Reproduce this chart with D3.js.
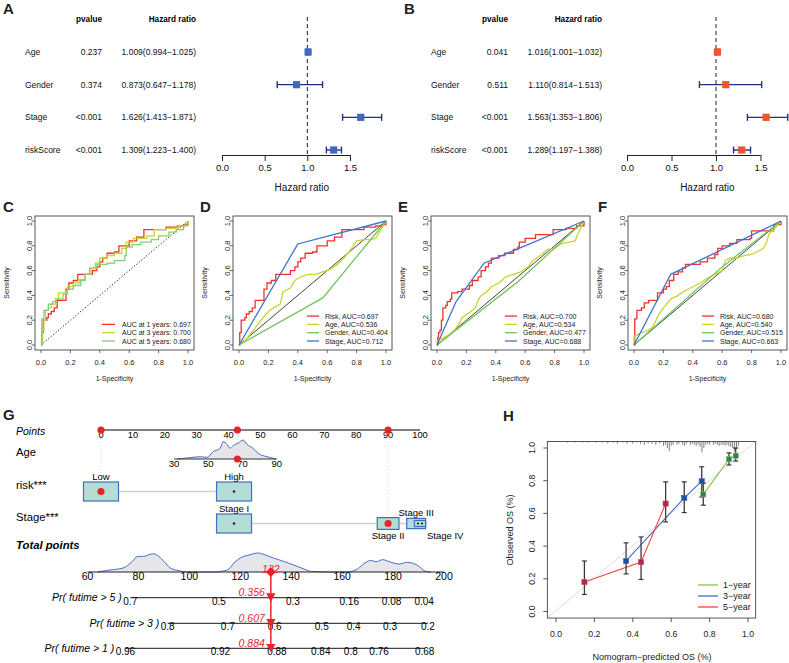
<!DOCTYPE html>
<html><head><meta charset="utf-8">
<script src="https://cdn.jsdelivr.net/npm/d3@7"></script>
<style>body{margin:0;background:#fff}svg{display:block}text{font-family:"Liberation Sans",Arial,Helvetica,sans-serif}</style>
</head><body><svg id="c" width="789" height="663"></svg>
<script>
// ---------------- DATA ----------------
const forestVars = ["Age","Gender","Stage","riskScore"];
const uniP = ["0.237","0.374","<0.001","<0.001"];
const uniHR = [1.009,0.873,1.626,1.309];
const uniLow = [0.994,0.647,1.413,1.223];
const uniHigh = [1.025,1.178,1.871,1.400];
const multiP = ["0.041","0.511","<0.001","<0.001"];
const multiHR = [1.016,1.110,1.563,1.289];
const multiLow = [1.001,0.814,1.353,1.197];
const multiHigh = [1.032,1.513,1.806,1.388];
const hrTicks = [0,0.5,1.0,1.5];

const rocTicks = [0,0.2,0.4,0.6,0.8,1.0];
const rocC_1yr = [[0,0],[0.005,0.1],[0.015,0.2],[0.04,0.22],[0.05,0.25],[0.07,0.27],[0.09,0.3],[0.11,0.36],[0.16,0.36],[0.17,0.45],[0.19,0.5],[0.22,0.52],[0.25,0.57],[0.33,0.57],[0.35,0.6],[0.38,0.63],[0.4,0.67],[0.42,0.7],[0.45,0.74],[0.5,0.75],[0.53,0.8],[0.57,0.8],[0.6,0.84],[0.65,0.87],[0.7,0.93],[0.83,0.93],[0.85,0.95],[0.93,0.96],[0.97,0.97],[1,1]];
const rocC_3yr = [[0,0],[0.005,0.05],[0.01,0.12],[0.02,0.2],[0.03,0.28],[0.05,0.3],[0.07,0.33],[0.1,0.37],[0.12,0.42],[0.17,0.43],[0.18,0.47],[0.22,0.5],[0.26,0.53],[0.3,0.57],[0.34,0.62],[0.37,0.66],[0.4,0.7],[0.45,0.72],[0.5,0.74],[0.55,0.78],[0.58,0.83],[0.63,0.86],[0.72,0.88],[0.77,0.93],[0.85,0.94],[0.92,0.96],[0.98,0.98],[1,1]];
const rocC_5yr = [[0,0],[0.005,0.21],[0.02,0.28],[0.05,0.33],[0.08,0.35],[0.1,0.37],[0.15,0.41],[0.18,0.45],[0.22,0.48],[0.27,0.52],[0.3,0.57],[0.33,0.62],[0.38,0.65],[0.45,0.66],[0.5,0.68],[0.57,0.72],[0.58,0.79],[0.62,0.81],[0.68,0.83],[0.75,0.85],[0.8,0.88],[0.87,0.91],[0.92,0.93],[0.97,0.96],[1,1]];
const aucC = [0.697,0.700,0.680];
const yearsC = [1,3,5];

const rocD_risk = rocC_1yr;
const rocD_age = [[0,0],[0.05,0.05],[0.1,0.12],[0.15,0.2],[0.2,0.27],[0.25,0.31],[0.28,0.33],[0.3,0.43],[0.35,0.46],[0.38,0.52],[0.42,0.55],[0.47,0.57],[0.52,0.57],[0.57,0.59],[0.62,0.61],[0.67,0.65],[0.72,0.71],[0.76,0.77],[0.8,0.84],[0.85,0.85],[0.9,0.85],[0.93,0.86],[0.96,0.92],[1,1]];
const rocD_gender = [[0,0],[0.57,0.38],[1,1]];
const rocD_stage = [[0,0],[0.4,0.815],[1,1]];
const aucD = [0.697,0.536,0.404,0.712];

const rocE_risk = [[0,0],[0.005,0.06],[0.01,0.1],[0.02,0.12],[0.03,0.2],[0.04,0.3],[0.06,0.32],[0.07,0.35],[0.09,0.37],[0.1,0.42],[0.14,0.43],[0.17,0.45],[0.22,0.48],[0.24,0.52],[0.28,0.55],[0.3,0.6],[0.33,0.63],[0.35,0.66],[0.37,0.7],[0.42,0.72],[0.46,0.74],[0.52,0.77],[0.55,0.79],[0.56,0.83],[0.6,0.86],[0.67,0.89],[0.77,0.89],[0.79,0.93],[0.88,0.94],[0.95,0.96],[1,1]];
const rocE_age = [[0,0],[0,0.03],[0.03,0.05],[0.08,0.08],[0.12,0.12],[0.15,0.17],[0.17,0.22],[0.22,0.26],[0.26,0.3],[0.28,0.36],[0.3,0.4],[0.33,0.42],[0.37,0.47],[0.42,0.5],[0.47,0.55],[0.52,0.57],[0.57,0.59],[0.62,0.63],[0.65,0.68],[0.7,0.72],[0.75,0.77],[0.8,0.78],[0.85,0.82],[0.9,0.83],[0.94,0.84],[0.96,0.9],[1,1]];
const rocE_gender = [[0,0],[0.56,0.52],[1,1]];
const rocE_stage = [[0,0],[0.13,0.35],[0.32,0.66],[1,1]];
const aucE = [0.700,0.534,0.477,0.688];

const rocF_risk = [[0,0],[0.005,0.21],[0.02,0.28],[0.05,0.3],[0.07,0.34],[0.1,0.36],[0.15,0.36],[0.16,0.42],[0.2,0.45],[0.22,0.47],[0.24,0.52],[0.27,0.57],[0.3,0.59],[0.33,0.62],[0.35,0.65],[0.45,0.67],[0.5,0.7],[0.55,0.73],[0.57,0.78],[0.6,0.8],[0.65,0.82],[0.7,0.85],[0.79,0.86],[0.8,0.92],[0.9,0.92],[0.95,0.97],[1,1]];
const rocF_age = [[0,0],[0,0.07],[0.05,0.1],[0.1,0.12],[0.13,0.15],[0.17,0.25],[0.2,0.3],[0.25,0.37],[0.3,0.4],[0.35,0.44],[0.4,0.47],[0.45,0.5],[0.5,0.54],[0.55,0.57],[0.6,0.6],[0.62,0.68],[0.65,0.7],[0.7,0.7],[0.75,0.72],[0.8,0.73],[0.85,0.76],[0.88,0.78],[0.9,0.82],[0.92,0.9],[0.95,0.93],[1,1]];
const rocF_gender = [[0,0],[0.6,0.63],[1,1]];
const rocF_stage = [[0,0],[0.25,0.57],[1,1]];
const aucF = [0.680,0.540,0.515,0.663];
const rocVarNames = ["Risk","Age","Gender","Stage"];

// nomogram
const pointsTicks = [0,10,20,30,40,50,60,70,80,90,100];
const ageTicks = [30,50,70,90];
const ageRange = [30,90];
const agePointsRange = [22.9,55.1];
const ageDensAge = [31.8,39.3,45.2,49.3,52.8,56.9,58.6,61,62.7,64.5,67.4,70.3,72.6,76.1,79.1,84.3,87.8,89.6];
const ageDens = [0,0.07,0.12,0.09,0.38,0.56,0.91,0.77,0.56,0.7,0.83,1,0.77,0.56,0.3,0.12,0.04,0];
const riskCats = ["Low","High"];
const riskPoints = [0,41.7];
const riskFreq = [0.5,0.5];
const stageCats = ["Stage I","Stage II","Stage III","Stage IV"];
const stagePoints = [41.7,90,98.8,100];
const stageFreq = [0.5,0.31,0.27,0.16];
const totalTicks = [60,80,100,120,140,160,180,200];
const totDensX = [63.9,69,74,77.6,79.6,82,84,86,88,90,92.6,95.9,99,104,109.6,115,117.5,120,123.4,126.8,130,133,137,141,145,148,155,162,166,169.3,171.3,173.3,175.9,179.2,182.4,185.7,189.6,192.9,194.9];
const totDens = [0,0.11,0.21,0.56,0.82,0.82,0.91,0.96,0.82,0.56,0.21,0.07,0,0,0,0.11,0.47,0.74,0.89,1.0,0.89,0.74,0.56,0.37,0.16,0.03,0,0,0.16,0.51,0.61,0.54,0.65,0.51,0.42,0.51,0.35,0.03,0];
const probNames = ["Pr( futime > 5 )","Pr( futime > 3 )","Pr( futime > 1 )"];
const probLabels5 = ["0.7","0.5","0.3","0.16","0.08","0.04"];
const probPos5 = [76.8,111.6,140.7,162.8,179.4,192.2];
const probLabels3 = ["0.8","0.7","0.6","0.5","0.4","0.3","0.2"];
const probPos3 = [91.5,115.1,133.5,152,164.5,178.8,193.7];
const probLabels1 = ["0.96","0.92","0.88","0.84","0.8","0.76","0.68"];
const probPos1 = [74.9,112.2,134.4,151.6,163.4,174.5,192.4];
const patientAge = 67, patientRisk = "Low", patientStage = "Stage II";
const patientTotal = 132;
const patientProb = ["0.356","0.607","0.884"];

// calibration
const calTicks = [0,0.2,0.4,0.6,0.8,1.0];
const calNames = ["1\u2212year","3\u2212year","5\u2212year"];
const cal1Pred = [0.767,0.901,0.936], cal1Obs = [0.716,0.932,0.953], cal1Lo = [0.65,0.896,0.92], cal1Hi = [0.785,0.97,1.0];
const cal3Pred = [0.365,0.668,0.759], cal3Obs = [0.309,0.695,0.797], cal3Lo = [0.23,0.605,0.70], cal3Hi = [0.42,0.793,0.885];
const cal5Pred = [0.148,0.443,0.571], cal5Obs = [0.18,0.302,0.66], cal5Lo = [0.104,0.196,0.548], cal5Hi = [0.309,0.456,0.793];
const rugPred = [0.06,0.10,0.14,0.17,0.21,0.24,0.27,0.30,0.32,0.35,0.37,0.40,0.42,0.44,0.46,0.48,0.50,0.52,0.54,0.56,0.57,0.58,0.59,0.60,0.61,0.63,0.64,0.66,0.67,0.68,0.70,0.71,0.72,0.73,0.74,0.75,0.76,0.77,0.78,0.79,0.80,0.82,0.83,0.84,0.85,0.86,0.87,0.88,0.89,0.90,0.91,0.92,0.93,0.94,0.95];
const rugCount = [1,1,1,1,1,1,2,1,2,1,2,2,1,2,3,2,2,3,2,4,3,6,9,4,3,3,2,3,4,2,3,2,3,4,3,5,10,6,3,2,3,3,2,3,4,3,3,4,3,4,5,6,9,7,4];

// ---------------- DRAW ----------------
const svg = d3.select("#c");
svg.append("rect").attr("width",789).attr("height",663).attr("fill","#fff");
const FONT = '"Liberation Sans", Arial, Helvetica, sans-serif';
function txt(g,x,y,s,o={}){
  const t=g.append("text").attr("x",x).attr("y",y).text(s)
    .attr("font-size",o.size||8.5).attr("text-anchor",o.anchor||"start")
    .attr("dominant-baseline","central").attr("fill",o.fill||"#000");
  if(o.weight)t.attr("font-weight",o.weight);
  if(o.style)t.attr("font-style",o.style);
  if(o.rotate)t.attr("transform",`rotate(${o.rotate},${x},${y})`);
  return t;
}
function ln(g,x1,y1,x2,y2,c,w,dash){
  const l=g.append("line").attr("x1",x1).attr("y1",y1).attr("x2",x2).attr("y2",y2).attr("stroke",c||"#000").attr("stroke-width",w||1);
  if(dash)l.attr("stroke-dasharray",dash);
  return l;
}
// panel letters
[["A",3,8],["B",404,8],["C",3,206],["D",200,206],["E",398,206],["F",598,206],["G",3,414],["H",503,415]]
 .forEach(d=>txt(svg,d[1],d[2],d[0],{size:15,weight:"bold",fill:"#222"}));

// ---- forest plots ----
function forest(c){
  const g=svg.append("g");
  const x=d3.scaleLinear().domain([0,1.5]).range(c.range);
  const y=d3.scalePoint().domain(forestVars).range([52,150]);
  txt(g,c.pRight,19,"pvalue",{anchor:"end",weight:"bold",size:8.2});
  txt(g,c.hrRight,19,"Hazard ratio",{anchor:"end",weight:"bold",size:8.2});
  forestVars.forEach((v,i)=>{
    txt(g,c.nameX,y(v),v,{size:8.5,fill:"#111"});
    txt(g,c.pRight,y(v),c.p[i],{anchor:"end",size:8.5,fill:"#111"});
    txt(g,c.hrRight,y(v),`${c.hr[i].toFixed(3)}(${c.lo[i].toFixed(3)}\u2212${c.hi[i].toFixed(3)})`,{anchor:"end",size:8.5,fill:"#111"});
  });
  ln(g,x(1),17,x(1),155,"#222",1,"4,3");
  forestVars.forEach((v,i)=>{
    const yy=y(v);
    ln(g,x(c.lo[i]),yy,x(c.hi[i]),yy,"#22307F",1.4);
    ln(g,x(c.lo[i]),yy-3.5,x(c.lo[i]),yy+3.5,"#22307F",1.4);
    ln(g,x(c.hi[i]),yy-3.5,x(c.hi[i]),yy+3.5,"#22307F",1.4);
    g.append("rect").attr("x",x(c.hr[i])-3.6).attr("y",yy-3.6).attr("width",7.2).attr("height",7.2).attr("fill",c.color);
  });
  const ax=d3.axisBottom(x).tickValues(hrTicks).tickFormat(d3.format(".1f")).tickSize(6).tickSizeOuter(0);
  const ag=g.append("g").attr("transform","translate(0,155)").call(ax).attr("font-family",FONT).attr("font-size",9.5);
  ag.selectAll("line,path").attr("stroke","#222");
  ag.selectAll("text").attr("fill","#111");
  const maxHi=d3.max(c.hi);
  txt(g,(x(0)+x(maxHi))/2,187,"Hazard ratio",{anchor:"middle",size:10,fill:"#111"});
}
forest({range:[222,350],nameX:25,pRight:102,hrRight:196,p:uniP,hr:uniHR,lo:uniLow,hi:uniHigh,color:"#4169BA"});
forest({range:[627,760.5],nameX:431,pRight:508,hrRight:602,p:multiP,hr:multiHR,lo:multiLow,hi:multiHigh,color:"#EE552B"});

// ---- ROC panels ----
const cRed="#F3312C", cYel="#C6D62C", cGrn="#73C45C", cGrnL="#86CE77", cBlu="#3C74CB";
function rocPanel(p){
  const g=svg.append("g");
  const L=p.left, R=L+159, T=216, B=350;
  const x=d3.scaleLinear().domain([0,1]).range([L+6,L+153]);
  const y=d3.scaleLinear().domain([0,1]).range([345,221]);
  g.append("rect").attr("x",L).attr("y",T).attr("width",R-L).attr("height",B-T).attr("fill","none").attr("stroke","#444").attr("stroke-width",0.9);
  rocTicks.forEach(t=>{
    ln(g,x(t),B,x(t),B+3,"#444",0.8);
    txt(g,x(t),362,d3.format(".1f")(t),{anchor:"middle",size:7.5,fill:"#222"});
    ln(g,L,y(t),L-3,y(t),"#444",0.8);
    txt(g,L-5.5,y(t),d3.format(".1f")(t),{anchor:"middle",size:7.5,fill:"#222",rotate:-90});
  });
  txt(g,(L+R)/2,378,"1-Specificity",{anchor:"middle",size:7,fill:"#222"});
  txt(g,L-28.5,(T+B)/2,"Sensitivity",{anchor:"middle",size:7,fill:"#222",rotate:-90});
  ln(g,x(0),y(0),x(1),y(1),"#111",p.dotted?1:0.8,p.dotted?"1.2,2":null);
  p.series.forEach(s=>{
    const line=d3.line().x(d=>x(d[0])).y(d=>y(d[1])).curve(s.step?d3.curveStepAfter:d3.curveLinear);
    g.append("path").attr("d",line(s.data)).attr("fill","none").attr("stroke",s.color).attr("stroke-width",1.3);
  });
  const n=p.series.length;
  p.series.forEach((s,i)=>{
    const yy=341-(n-1-i)*8.3;
    ln(g,L+p.lx[0],yy,L+p.lx[1],yy,s.color,1.3);
    txt(g,L+p.lx[2],yy,s.label,{size:7,fill:"#222"});
  });
}
rocPanel({left:35,dotted:true,lx:[67,80,87],series:[
  {data:rocC_1yr,color:cRed,step:true,label:`AUC at ${yearsC[0]} years: ${aucC[0].toFixed(3)}`},
  {data:rocC_3yr,color:cYel,step:true,label:`AUC at ${yearsC[1]} years: ${aucC[1].toFixed(3)}`},
  {data:rocC_5yr,color:cGrnL,step:true,label:`AUC at ${yearsC[2]} years: ${aucC[2].toFixed(3)}`}]});
function fourSeries(risk,age,gender,stage,auc){
  const d=[risk,age,gender,stage], col=[cRed,cYel,cGrn,cBlu];
  return d.map((a,i)=>({data:a,color:col[i],step:i===0,label:`${rocVarNames[i]}, AUC=${auc[i].toFixed(3)}`}));
}
rocPanel({left:233,lx:[74,86,92],series:fourSeries(rocD_risk,rocD_age,rocD_gender,rocD_stage,aucD)});
rocPanel({left:431,lx:[74,86,92],series:fourSeries(rocE_risk,rocE_age,rocE_gender,rocE_stage,aucE)});
rocPanel({left:628,lx:[74,86,92],series:fourSeries(rocF_risk,rocF_age,rocF_gender,rocF_stage,aucF)});

// ---- Nomogram G ----
(function(){
  const g=svg.append("g");
  const ptsX=d3.scaleLinear().domain([0,100]).range([101,420]);
  const totX=d3.scaleLinear().domain([60,200]).range([87.5,444]);
  const ageToPts=d3.scaleLinear().domain(ageRange).range(agePointsRange);
  const ageX=a=>ptsX(ageToPts(a));
  const yPts=430,yAge=459,yRisk=491.5,yStage=523.5,yTot=572,yProb=[597.7,623.3,648.3];
  const red="#E8232A", boxFill="#B4DDD6", boxStroke="#3E6FC2";
  txt(g,16,430.5,"Points",{size:10.5,style:"italic"});
  txt(g,16,452,"Age",{size:11.3});
  txt(g,16,485,"risk***",{size:11.3});
  txt(g,16,517,"Stage***",{size:11.3});
  txt(g,16,545,"Total points",{size:11.3,weight:"bold",style:"italic"});
  // dotted guides
  const agePts=ageToPts(patientAge);
  const riskP=riskPoints[riskCats.indexOf(patientRisk)], stageP=stagePoints[stageCats.indexOf(patientStage)];
  ln(g,ptsX(riskP),yPts,ptsX(riskP),yRisk,"#E2DDBE",1,"1,2");
  ln(g,ptsX(agePts),yPts,ptsX(agePts),yAge,"#E2DDBE",1,"1,2");
  ln(g,ptsX(stageP),yPts,ptsX(stageP),yStage,"#E2DDBE",1,"1,2");
  // points axis
  ln(g,ptsX(0),yPts,ptsX(100),yPts,"#555",1.6);
  pointsTicks.forEach(t=>txt(g,ptsX(t),yPts+4.8,t,{anchor:"middle",size:9.3}));
  // age
  const dens=d3.scaleLinear().domain([0,1]).range([0,19]);
  const area=d3.area().x((d,i)=>ageX(ageDensAge[i])).y0(yAge).y1(d=>yAge-dens(d)).curve(d3.curveMonotoneX);
  g.append("path").attr("d",area(ageDens)).attr("fill","#E6E6EA");
  g.append("path").attr("d",area.lineY1()(ageDens)).attr("fill","none").attr("stroke","#3A5EC2").attr("stroke-width",0.9);
  ln(g,ageX(ageRange[0]),yAge,ageX(ageRange[1]),yAge,"#333",1.2);
  ageTicks.forEach(t=>txt(g,ageX(t),yAge+4.5,t,{anchor:"middle",size:9.5}));
  // categorical rows
  function catRow(cats,pts,freq,yy,labelPos){
    for(let i=0;i<cats.length-1;i++){
      const w1=70*freq[i],w2=70*freq[i+1];
      ln(g,ptsX(pts[i])+w1/2,yy,ptsX(pts[i+1])-w2/2,yy,"#D3D3D3",1.6);
    }
    cats.forEach((c,i)=>{
      const w=70*freq[i],h=38*freq[i],cx=ptsX(pts[i]);
      g.append("rect").attr("x",cx-w/2).attr("y",yy-h/2).attr("width",w).attr("height",h).attr("fill",boxFill).attr("stroke",boxStroke).attr("stroke-width",1.2);
      const lp=labelPos[i];
      if(lp==="above")txt(g,cx,yy-h/2-5.5,c,{anchor:"middle",size:9.5});
      else if(lp==="below")txt(g,cx,yy+h/2+5.8,c,{anchor:"middle",size:9.5});
      else txt(g,cx+7,yy+h/2+8.5,c,{anchor:"start",size:9.5});
    });
  }
  catRow(riskCats,riskPoints,riskFreq,yRisk,["above","above"]);
  catRow(stageCats,stagePoints,stageFreq,yStage,["above","below","above","belowright"]);
  // small dots
  riskCats.forEach((c,i)=>{ if(c!==patientRisk) g.append("circle").attr("cx",ptsX(riskPoints[i])).attr("cy",yRisk).attr("r",1.3).attr("fill","#222");});
  stageCats.forEach((c,i)=>{ if(c!==patientStage){
    if(c==="Stage IV"){[-2,2].forEach(o=>g.append("circle").attr("cx",ptsX(stagePoints[i])+o).attr("cy",yStage).attr("r",1.1).attr("fill","#222"));}
    else if(c!=="Stage III") g.append("circle").attr("cx",ptsX(stagePoints[i])).attr("cy",yStage).attr("r",1.3).attr("fill","#222");
  }});
  // red dots
  [[ptsX(riskP),yPts],[ptsX(agePts),yPts],[ptsX(stageP),yPts],[ageX(patientAge),yAge],[ptsX(riskP),yRisk],[ptsX(stageP),yStage]]
    .forEach(d=>g.append("circle").attr("cx",d[0]).attr("cy",d[1]).attr("r",3.6).attr("fill",red));
  // total points
  const tArea=d3.area().x((d,i)=>totX(totDensX[i])).y0(yTot).y1(d=>yTot-dens(d)).curve(d3.curveMonotoneX);
  g.append("path").attr("d",tArea(totDens)).attr("fill","#E6E6EA");
  g.append("path").attr("d",tArea.lineY1()(totDens)).attr("fill","none").attr("stroke","#3A5EC2").attr("stroke-width",0.9);
  ln(g,totX(60),yTot,totX(200),yTot,"#222",1.2);
  totalTicks.forEach(t=>txt(g,totX(t),yTot+3.8,t,{anchor:"middle",size:10.5}));
  // probability axes
  const probSets=[[probLabels5,probPos5],[probLabels3,probPos3],[probLabels1,probPos1]];
  probSets.forEach((ps,k)=>{
    const yy=yProb[k];
    ln(g,totX(ps[1][0]),yy,totX(ps[1][ps[1].length-1]),yy,"#444",1.3);
    const labs=ps[0].map((l,i)=>txt(g,totX(ps[1][i]),yy+3.6,l,{anchor:"middle",size:10}));
    const firstW=labs[0].node().getComputedTextLength();
    txt(g,totX(ps[1][0])-firstW/2-1.5,yy-0.8,probNames[k],{anchor:"end",size:10.5,style:"italic"});
  });
  // patient marker
  const px=totX(patientTotal);
  ln(g,px,yTot,px,yProb[2]+3,red,1.5);
  g.append("path").attr("d",`M${px},${yTot-5}L${px+5},${yTot}L${px},${yTot+5}L${px-5},${yTot}Z`).attr("fill",red);
  txt(g,px,yTot-3.5,patientTotal,{anchor:"middle",size:10.5,style:"italic",fill:red});
  yProb.forEach((yy,k)=>{
    g.append("path").attr("d",`M${px-4.6},${yy-4.4}L${px+4.6},${yy-4.4}L${px},${yy+4.2}Z`).attr("fill",red);
    txt(g,px-6,yy-5.5,patientProb[k],{anchor:"end",size:10.5,style:"italic",fill:red});
  });
})();

// ---- Calibration H ----
(function(){
  const g=svg.append("g");
  const x=d3.scaleLinear().domain([0,1]).range([556,748]);
  const y=d3.scaleLinear().domain([0,1]).range([611.5,448]);
  const L=x(-0.045),R=x(1.04),T=y(1.04),B=y(-0.04);
  rugPred.forEach((p,i)=>ln(g,x(p),T,x(p),T+rugCount[i]*1.1,"#808080",1));
  ln(g,L,B,R,T,"#DCDCDC",1);
  g.append("rect").attr("x",L).attr("y",T).attr("width",R-L).attr("height",B-T).attr("fill","none").attr("stroke","#444").attr("stroke-width",0.9);
  const sets=[
    {pred:cal1Pred,obs:cal1Obs,lo:cal1Lo,hi:cal1Hi,line:"#86C64A",mark:"#2F7F66"},
    {pred:cal3Pred,obs:cal3Obs,lo:cal3Lo,hi:cal3Hi,line:"#3F6ECC",mark:"#1F4E9C"},
    {pred:cal5Pred,obs:cal5Obs,lo:cal5Lo,hi:cal5Hi,line:"#F2443B",mark:"#9A2E62"}];
  sets.forEach(s=>{
    const line=d3.line().x((d,i)=>x(s.pred[i])).y(d=>y(d));
    g.append("path").attr("d",line(s.obs)).attr("fill","none").attr("stroke",s.line).attr("stroke-width",1.1);
  });
  sets.forEach(s=>{
    s.pred.forEach((p,i)=>{
      ln(g,x(p),y(s.lo[i]),x(p),y(s.hi[i]),"#3A3A3A",1.3);
      ln(g,x(p)-2.5,y(s.lo[i]),x(p)+2.5,y(s.lo[i]),"#3A3A3A",1.2);
      ln(g,x(p)-2.5,y(s.hi[i]),x(p)+2.5,y(s.hi[i]),"#3A3A3A",1.2);
    });
  });
  sets.forEach(s=>{
    s.pred.forEach((p,i)=>g.append("rect").attr("x",x(p)-2.6).attr("y",y(s.obs[i])-2.6).attr("width",5.2).attr("height",5.2).attr("fill",s.mark).attr("stroke",s.line).attr("stroke-width",0.6));
  });
  calTicks.forEach(t=>{
    ln(g,x(t),B,x(t),B+4,"#444",0.9);
    txt(g,x(t),634,d3.format(".1f")(t),{anchor:"middle",size:8.7,fill:"#222"});
    ln(g,L,y(t),L-4,y(t),"#444",0.9);
    txt(g,532,y(t),d3.format(".1f")(t),{anchor:"middle",size:8.7,fill:"#222",rotate:-90});
  });
  txt(g,652,657,"Nomogram\u2212predicted OS (%)",{anchor:"middle",size:9,fill:"#222"});
  txt(g,509.5,530,"Observed OS (%)",{anchor:"middle",size:9,fill:"#222",rotate:-90});
  sets.forEach((s,i)=>{
    const yy=585+i*11;
    ln(g,698,yy,718,yy,s.line,1.3);
    txt(g,723,yy,calNames[i],{size:9,fill:"#222"});
  });
})();
</script></body></html>
